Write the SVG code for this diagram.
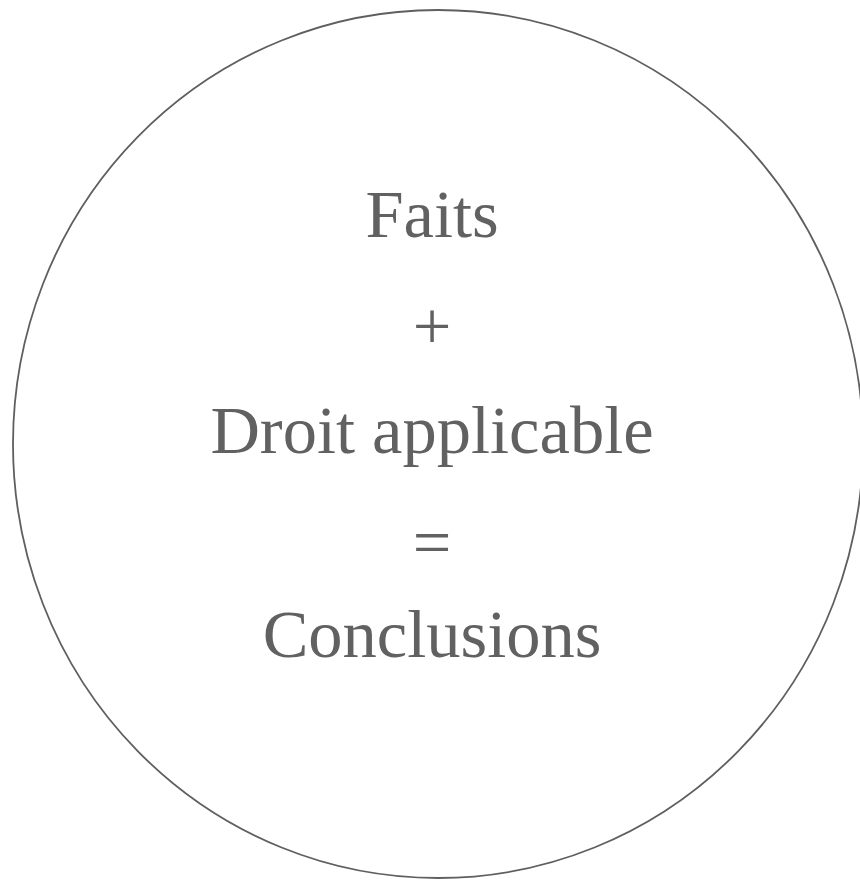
<svg xmlns="http://www.w3.org/2000/svg" width="860" height="880" viewBox="0 0 860 880">
<style>
.t{font-family:"Liberation Serif","Times New Roman",serif;font-size:68.5px;fill:#616161;text-anchor:middle}
</style>
<rect width="860" height="880" fill="#ffffff"/>
<g id="circle">
<ellipse cx="438" cy="444" rx="425" ry="434" fill="none" stroke="#5f5f5f" stroke-width="1.8"/>
</g>
<g id="formula">
<text class="t" x="432" y="237">Faits</text>
<text class="t" x="432" y="349">+</text>
<text class="t" x="432" y="453">Droit applicable</text>
<text class="t" x="432" y="565">=</text>
<text class="t" x="432" y="657">Conclusions</text>
</g>
</svg>
